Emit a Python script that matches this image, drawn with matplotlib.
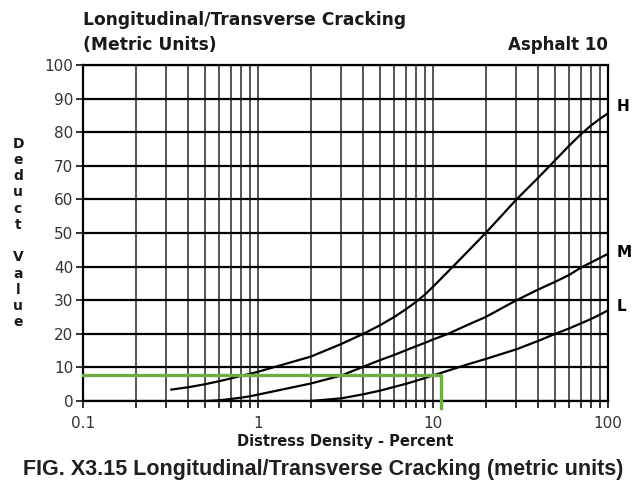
import matplotlib
matplotlib.use("Agg")
import matplotlib.pyplot as plt
from matplotlib.ticker import LogLocator, FixedLocator, NullFormatter, FixedFormatter

# ---- data ----
H_x = [0.32, 0.4, 0.5, 0.6, 0.7, 0.8, 0.9, 1, 2, 3, 4, 5, 6, 7, 8, 9, 10, 13, 16, 20,
       30, 40, 50, 60, 70, 80, 90, 100]
H_y = [3.4, 4.1, 5.0, 5.9, 6.7, 7.5, 8.1, 8.7, 13.2, 17, 20, 22.6, 25, 27.3, 29.5, 31.7, 34, 40, 44.8, 50,
       60, 66.5, 71.7, 76, 79.4, 82, 84, 85.6]
M_x = [0.51, 0.6, 0.7, 0.8, 0.9, 1, 2, 3, 4, 5, 6, 7, 8, 9, 10, 12.2, 16, 20, 30, 40, 50, 60, 70, 100]
M_y = [0, 0.2, 0.6, 1.0, 1.4, 1.9, 5.2, 7.6, 10.2, 12.2, 13.7, 15.1, 16.3, 17.3, 18.3, 20, 22.8, 25.0,
       30, 33.2, 35.5, 37.5, 39.7, 43.8]
L_x = [2, 3, 4, 5, 6, 7, 8, 10, 16, 20, 30, 40, 50, 60, 70, 80, 90, 100]
L_y = [0, 0.8, 2, 3.1, 4.2, 5.1, 6, 7.6, 11, 12.5, 15.4, 17.9, 20, 21.6, 23.1, 24.4, 25.7, 27.0]
curve_labels = ["H", "M", "L"]
example_density = 11.1
example_deduct = 7.6
x_ticks = [0.1, 1, 10, 100]
x_tick_labels = ["0.1", "1", "10", "100"]
y_ticks = [0, 10, 20, 30, 40, 50, 60, 70, 80, 90, 100]

W, H = 637, 491
fig = plt.figure(figsize=(W / 100, H / 100), dpi=100)
ax = fig.add_axes([83 / W, 1 - 401 / H, (608 - 83) / W, (401 - 65) / H])

ax.set_xscale("log")
ax.set_xlim(0.1, 100)
ax.set_ylim(0, 100)

ax.xaxis.set_major_locator(FixedLocator(x_ticks))
ax.xaxis.set_major_formatter(FixedFormatter(x_tick_labels))
ax.xaxis.set_minor_locator(LogLocator(base=10, subs=[2, 3, 4, 5, 6, 7, 8, 9], numticks=20))
ax.xaxis.set_minor_formatter(NullFormatter())
ax.set_yticks(y_ticks)

# grid
for xv in [v * d for d in (0.1, 1, 10) for v in range(1, 10)] + [100]:
    ax.axvline(xv, color="#555555", lw=1.4, zorder=1)
for yv in y_ticks:
    ax.axhline(yv, color="black", lw=1.6, zorder=1)

for s in ax.spines.values():
    s.set_color("black")
    s.set_linewidth(1.6)

ax.tick_params(axis="x", which="both", direction="out", length=5, width=1.4,
               color="#333333", labelsize=11, labelcolor="#333333", pad=6)
ax.tick_params(axis="y", which="both", direction="out", length=5, width=1.4,
               color="#333333", labelsize=11, labelcolor="#333333", pad=2)

# curves
for xs, ys in [(H_x, H_y), (M_x, M_y), (L_x, L_y)]:
    ax.plot(xs, ys, color="black", lw=1.6, zorder=3, solid_joinstyle="round")

# example (green)
ax.plot([0.1, example_density, example_density], [example_deduct, example_deduct, -2],
        color="#70ad47", lw=2.4, zorder=4, clip_on=False)

# curve labels
label_dy = [4.8, 1.0, 2.6]
for lab, ys, dy in zip(curve_labels, [H_y, M_y, L_y], label_dy):
    ax.annotate(lab, xy=(100, ys[-1]), xytext=(6.5, dy), textcoords="offset points",
                ha="left", va="center", fontsize=11, fontweight="bold", annotation_clip=False)

# titles
fig.text(83 / W, 1 - 20 / H, "Longitudinal/Transverse Cracking", ha="left", va="center",
         fontsize=12.3, fontweight="bold", color="#1a1a1a")
fig.text(83 / W, 1 - 45 / H, "(Metric Units)", ha="left", va="center",
         fontsize=12.3, fontweight="bold", color="#1a1a1a")
fig.text(608 / W, 1 - 45 / H, "Asphalt 10", ha="right", va="center",
         fontsize=12, fontweight="bold", color="#1a1a1a")

# y label (stacked letters)
fig.text(18 / W, 1 - 233 / H, "D\ne\nd\nu\nc\nt\n\nV\na\nl\nu\ne", ha="center", va="center",
         fontsize=10, fontweight="bold", linespacing=1.2, color="#1a1a1a")

ax.set_xlabel("Distress Density - Percent", fontsize=10.5, fontweight="bold",
              color="#1a1a1a", labelpad=2)

fig.text(323 / W, 1 - 470 / H,
         "FIG. X3.15 Longitudinal/Transverse Cracking (metric units)",
         ha="center", va="center", fontsize=15.5, fontweight="bold",
         family="Liberation Sans", color="#231f20")

fig.savefig("out.png", dpi=100)
